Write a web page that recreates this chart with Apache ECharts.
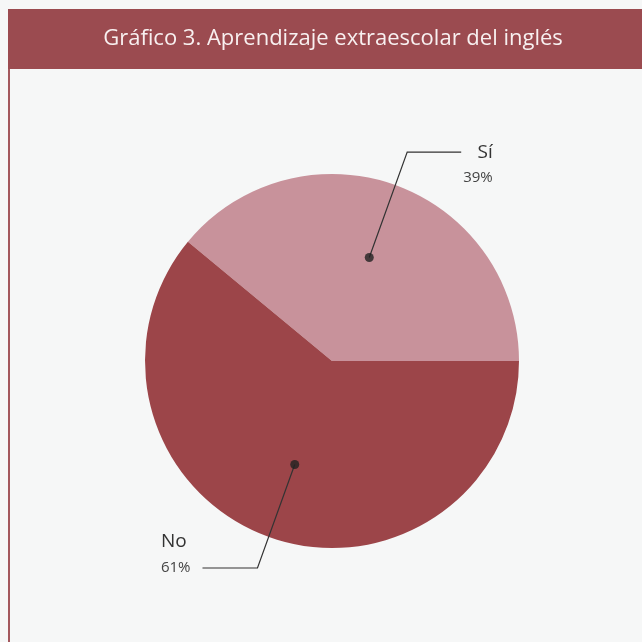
<!DOCTYPE html>
<html>
<head>
<meta charset="utf-8">
<script src="https://cdn.jsdelivr.net/npm/echarts@6/dist/echarts.min.js"></script>
<style>
  html, body { margin: 0; padding: 0; background: #f6f7f7; }
  #chart { width: 642px; height: 642px; }
</style>
</head>
<body>
<div id="chart"></div>
<script>
// data
const categories = ['Sí', 'No']
const percentages = [39, 61]

const center = [332, 361]
const pieRadius = 187
const dotRadius = 110

// mid angle of each slice, counter-clockwise from 3 o'clock
const total = percentages.reduce((a, b) => a + b, 0)
let acc = 0
const midAngles = percentages.map((v) => {
  const mid = (acc + v / 2) / total * 360
  acc += v
  return mid
})

const chart = echarts.init(document.getElementById('chart'))

chart.setOption({
  backgroundColor: '#f6f7f7',
  animation: false,
  title: {
    text: 'Gráfico 3. Aprendizaje extraescolar del inglés',
    left: 328,
    top: 23,
    textAlign: 'center',
    textStyle: {
      color: '#f8f0f0',
      fontFamily: 'Open Sans',
      fontSize: 22,
      fontWeight: 500,
    },
  },
  graphic: [
    { type: 'rect', z: -1, shape: { x: 8, y: 9, width: 640, height: 60 }, style: { fill: '#9b4b50' } },
    { type: 'rect', z: -1, shape: { x: 8, y: 69, width: 2, height: 580 }, style: { fill: '#a3585d' } },
  ],
  polar: { center: center, radius: pieRadius },
  radiusAxis: { type: 'value', min: 0, max: pieRadius, show: false },
  angleAxis: { type: 'value', min: 0, max: 360, startAngle: 0, clockwise: false, show: false },
  series: [
    {
      type: 'pie',
      z: 1,
      center: center,
      radius: pieRadius,
      startAngle: 0,
      clockwise: false,
      silent: true,
      label: { show: false },
      labelLine: { show: false },
      data: categories.map((c, i) => ({
        name: c,
        value: percentages[i],
        itemStyle: { color: ['#c8929b', '#9c4549'][i] },
      })),
    },
    {
      type: 'pie',
      z: 5,
      center: center,
      radius: dotRadius,
      startAngle: 0,
      clockwise: false,
      silent: true,
      avoidLabelOverlap: false,
      itemStyle: { color: 'rgba(0,0,0,0)' },
      label: {
        show: true,
        position: 'outside',
        distanceToLabelLine: 2,
        color: '#333',
        fontFamily: 'Open Sans',
      },
      labelLine: {
        show: true,
        lineStyle: { color: '#333', width: 1.2 },
      },
      data: categories.map((c, i) => ({
        name: c,
        value: percentages[i],
        label: i === 0
          ? {
              formatter: '{n|{b}}\n{p|{c}%}',
              padding: [26, 0, 0, 0],
              rich: {
                n: { fontSize: 19, lineHeight: 26, align: 'right', color: '#333', fontFamily: 'Open Sans' },
                p: { fontSize: 15, lineHeight: 26, align: 'right', color: '#444', fontFamily: 'Open Sans' },
              },
            }
          : {
              formatter: '{n|{b}}\n{p|{c}%}',
              padding: [0, 0, 26, 0],
              distanceToLabelLine: 12,
              rich: {
                n: { fontSize: 19, lineHeight: 26, align: 'left', color: '#333', fontFamily: 'Open Sans' },
                p: { fontSize: 15, lineHeight: 26, align: 'left', color: '#444', fontFamily: 'Open Sans' },
              },
            },
        labelLine: i === 0 ? { length: 112, length2: 54 } : { length: 110, length2: 55 },
      })),
    },
    {
      type: 'scatter',
      coordinateSystem: 'polar',
      z: 6,
      silent: true,
      symbolSize: 9,
      itemStyle: { color: '#222' },
      data: midAngles.map((a) => [dotRadius, a]),
    },
  ],
})
</script>
</body>
</html>
